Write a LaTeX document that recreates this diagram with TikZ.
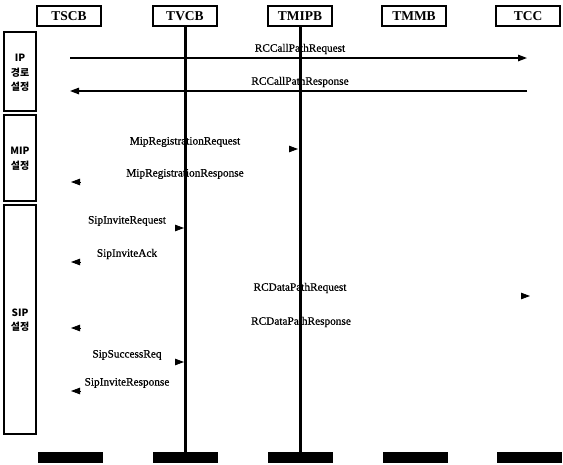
\documentclass[tikz,border=0pt]{standalone}
\usepackage{fontspec}
\setmainfont{Liberation Serif}
\newfontfamily\msgfont[FakeBold=0.6]{Liberation Serif}
\newfontfamily\krfont{Noto Sans CJK KR}
\usetikzlibrary{arrows.meta}
\begin{document}
\begin{tikzpicture}[x=1pt,y=-1pt,
 head/.style={draw,line width=1.3pt,minimum width=64pt,minimum height=20pt,inner sep=0pt,font=\bfseries\fontsize{13.5}{13.5}\selectfont},
 bar/.style={fill=black,minimum width=65pt,minimum height=11pt,inner sep=0pt},
 life/.style={line width=3pt},
 phase/.style={draw,line width=1.2pt,minimum width=32pt,inner sep=0pt},
 msg/.style={font=\msgfont\fontsize{11.3}{12}\selectfont,inner sep=0pt},
 full/.style={line width=1.3pt,-{Triangle[length=9pt,width=6.5pt]}},
 tipar/.style={line width=0.8pt,-{Triangle[length=9pt,width=6.5pt]}},
 plab/.style={font=\krfont\bfseries\fontsize{10}{14.5}\selectfont,align=center,inner sep=0pt}
]
\useasboundingbox (0,0) rectangle (563,464);
% headers
\node[head] (tscb) at (69,16) {TSCB};
\node[head] (tvcb) at (185,16) {TVCB};
\node[head] (tmipb) at (300,16) {TMIPB};
\node[head] (tmmb) at (414,16) {TMMB};
\node[head] (tcc) at (528,16) {TCC};
% bottom bars
\node[bar] (b1) at (70,457.5) {};
\node[bar] (b2) at (185,457.5) {};
\node[bar] (b3) at (300,457.5) {};
\node[bar] (b4) at (415,457.5) {};
\node[bar] (b5) at (529,457.5) {};
% lifelines
\draw[life] (tvcb.south) -- (b2.north);
\draw[life] (tmipb.south) -- (b3.north);
% phase boxes
\node[phase,minimum height=79pt] (pip) at (20,71.5) {};
\node[phase,minimum height=86pt] (pmip) at (20,158) {};
\node[phase,minimum height=229pt] (psip) at (20,319.5) {};
\node[plab] (lip) at (20,73) {IP\\경로\\설정};
\node[plab] (lmip) at (20,159) {MIP\\설정};
\node[plab] (lsip) at (20,320) {SIP\\설정};
% messages
\coordinate (l1) at (70,58); \coordinate (r1) at (527,58);
\draw[full] (l1) -- (r1);
\node[msg] (m1) at (300,49) {RCCallPathRequest};
\coordinate (l2) at (70,91); \coordinate (r2) at (527,91);
\draw[full] (r2) -- (l2);
\node[msg] (m2) at (300,82) {RCCallPathResponse};
\node[msg] (m3) at (185,142) {MipRegistrationRequest};
\coordinate (s3) at (289,149); \coordinate (t3) at (298,149);
\draw[tipar] (s3) -- (t3);
\node[msg] (m4) at (185,174) {MipRegistrationResponse};
\coordinate (s4) at (80,182); \coordinate (t4) at (71,182);
\draw[tipar] (s4) -- (t4);
\node[msg] (m5) at (127,221) {SipInviteRequest};
\coordinate (s5) at (175,228); \coordinate (t5) at (184,228);
\draw[tipar] (s5) -- (t5);
\node[msg] (m6) at (127,254) {SipInviteAck};
\coordinate (s6) at (80,262); \coordinate (t6) at (71,262);
\draw[tipar] (s6) -- (t6);
\node[msg] (m7) at (300,288) {RCDataPathRequest};
\coordinate (s7) at (521,296); \coordinate (t7) at (530,296);
\draw[tipar] (s7) -- (t7);
\node[msg] (m8) at (301,322) {RCDataPathResponse};
\coordinate (s8) at (80,328); \coordinate (t8) at (71,328);
\draw[tipar] (s8) -- (t8);
\node[msg] (m9) at (127,355) {SipSuccessReq};
\coordinate (s9) at (175,362); \coordinate (t9) at (184,362);
\draw[tipar] (s9) -- (t9);
\node[msg] (m10) at (127,383) {SipInviteResponse};
\coordinate (s10) at (80,391); \coordinate (t10) at (71,391);
\draw[tipar] (s10) -- (t10);
\end{tikzpicture}
\end{document}
